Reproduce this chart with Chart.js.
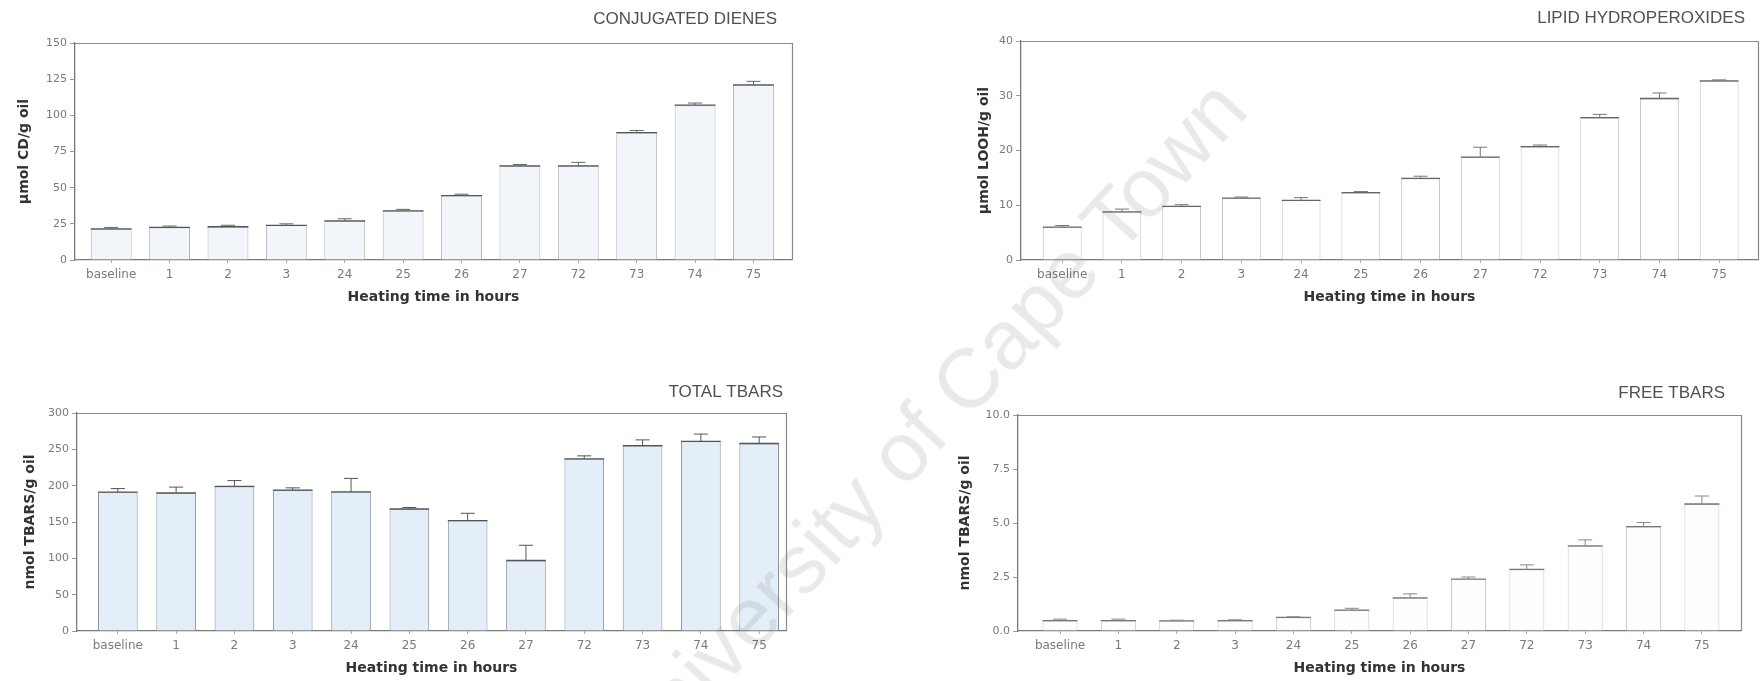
<!DOCTYPE html>
<html><head><meta charset="utf-8">
<script src="https://cdn.jsdelivr.net/npm/chart.js@4.4.1/dist/chart.umd.min.js"></script>
<style>
html,body{margin:0;padding:0;background:#fff;width:1764px;height:681px;overflow:hidden;position:relative}
canvas{position:absolute}
#wm{position:absolute;left:924px;top:426px;transform:translate(-50%,-50%) rotate(-47.5deg);font:84px "Liberation Sans",Arial,sans-serif;color:rgba(100,100,100,0.14);white-space:nowrap;pointer-events:none;line-height:1}
</style></head><body>
<canvas id="cd" width="800" height="320" style="left:0;top:0"></canvas>
<canvas id="looh" width="884" height="320" style="left:880px;top:0"></canvas>
<canvas id="total" width="800" height="341" style="left:0;top:340px"></canvas>
<canvas id="free" width="884" height="341" style="left:880px;top:340px"></canvas>
<div id="wm">University of Cape Town</div>
<script>
// ---- data ----
const categories = ['baseline','1','2','3','24','25','26','27','72','73','74','75'];
const xAxisTitle = 'Heating time in hours';

const cdValues   = [21.5, 22.5, 23, 24, 27, 34, 44.5, 65, 65, 88, 107, 121];
const cdErrUpper = [22.5, 23.5, 24, 25, 28.5, 35, 45.5, 66, 67.5, 89.5, 108.5, 123.5];
const cdYTicks   = [0, 25, 50, 75, 100, 125, 150];

const loohValues   = [6, 8.8, 9.8, 11.3, 10.9, 12.3, 14.9, 18.8, 20.7, 26, 29.5, 32.7];
const loohErrUpper = [6.3, 9.3, 10.1, 11.5, 11.4, 12.5, 15.3, 20.6, 21, 26.6, 30.5, 32.9];
const loohYTicks   = [0, 10, 20, 30, 40];

const totalValues   = [191, 190, 199, 194, 191.5, 168, 152, 97, 237, 255, 261, 258];
const totalErrUpper = [196, 198, 207, 197, 210, 170, 162, 118, 241, 263, 271, 267];
const totalYTicks   = [0, 50, 100, 150, 200, 250, 300];

const freeValues   = [0.48, 0.48, 0.47, 0.48, 0.63, 0.97, 1.53, 2.4, 2.85, 3.94, 4.83, 5.88];
const freeErrUpper = [0.55, 0.55, 0.5, 0.52, 0.66, 1.05, 1.72, 2.5, 3.06, 4.22, 5.02, 6.25];
const freeYTicks   = [0, 2.5, 5, 7.5, 10];

const TICK_FONT = '"DejaVu Sans", "Liberation Sans", sans-serif';
const TITLE_FONT = '"DejaVu Sans", "Liberation Sans", sans-serif';
const PANEL_FONT = '"Liberation Sans", Arial, sans-serif';

// ---- plugins ----
const framePlugin = {
  id: 'frame',
  afterDatasetsDraw(chart) {
    const a = chart.chartArea, ctx = chart.ctx;
    ctx.save();
    ctx.strokeStyle = '#8a8a8a';
    ctx.lineWidth = 1.2;
    ctx.beginPath();
    ctx.moveTo(a.left, a.top + 0.5); ctx.lineTo(a.right + 0.5, a.top + 0.5); ctx.lineTo(a.right + 0.5, a.bottom);
    ctx.stroke();
    ctx.restore();
  }
};
const errPlugin = {
  id: 'errbars',
  afterDatasetsDraw(chart) {
    const ctx = chart.ctx, ys = chart.scales.y;
    chart.data.datasets.forEach((ds, di) => {
      const meta = chart.getDatasetMeta(di);
      meta.data.forEach((bar, i) => {
        const w = bar.width, x = bar.x, y = bar.y;
        ctx.save();
        ctx.strokeStyle = ds.meanColor; ctx.lineWidth = 1.3;
        ctx.beginPath(); ctx.moveTo(x - w / 2, y); ctx.lineTo(x + w / 2, y); ctx.stroke();
        const yu = ys.getPixelForValue(ds.errUpper[i]);
        ctx.strokeStyle = ds.errColor; ctx.lineWidth = 1;
        ctx.beginPath(); ctx.moveTo(x, y); ctx.lineTo(x, yu);
        ctx.moveTo(x - 7, yu); ctx.lineTo(x + 7, yu); ctx.stroke();
        ctx.restore();
      });
    });
  }
};
const titlePlugin = {
  id: 'panelTitle',
  afterDraw(chart, args, opts) {
    const a = chart.chartArea, ctx = chart.ctx;
    ctx.save();
    ctx.font = '17px ' + PANEL_FONT;
    ctx.fillStyle = '#505050';
    ctx.textAlign = 'right'; ctx.textBaseline = 'middle';
    ctx.fillText(opts.text, a.right - opts.dx, a.top - opts.dy);
    ctx.restore();
  }
};

function makePanel(id, p) {
  return new Chart(document.getElementById(id), {
    type: 'bar',
    data: { datasets: [{
      data: p.values.map((v, i) => ({ x: i, y: v })),
      backgroundColor: p.fill, borderColor: p.border, borderWidth: 1,
      barPercentage: p.barPct, categoryPercentage: 1,
      errUpper: p.err, meanColor: p.mean, errColor: p.errColor
    }] },
    options: {
      responsive: false, animation: false,
      layout: { padding: p.pad },
      plugins: { legend: { display: false }, tooltip: { enabled: false },
                 panelTitle: { text: p.title, dx: p.tdx, dy: p.tdy } },
      scales: {
        x: {
          type: 'linear', min: p.xmin, max: p.xmax, offset: false,
          afterBuildTicks: s => { s.ticks = categories.map((c, i) => ({ value: i })); },
          afterFit: s => { s.height = p.xh; },
          ticks: { callback: v => categories[v], autoSkip: false, maxRotation: 0, padding: 5,
                   color: '#7a7a7a', font: { size: 12, family: TICK_FONT } },
          grid: { display: true, offset: false, drawOnChartArea: false, tickLength: 3, color: '#aaa' },
          border: { display: true, color: '#7a7a7a', width: 1.3 },
          title: { display: true, text: xAxisTitle, color: '#333',
                   font: { size: 14, weight: 'bold', family: TITLE_FONT },
                   padding: { top: 0, bottom: p.xtp } }
        },
        y: {
          min: 0, max: p.ymax,
          afterBuildTicks: s => { s.ticks = p.yTicks.map(v => ({ value: v })); },
          afterFit: s => { s.width = p.yw; },
          ticks: { callback: v => p.fmt(v), padding: 3, color: '#7a7a7a',
                   font: { size: 11, family: TICK_FONT } },
          grid: { display: true, drawOnChartArea: false, tickLength: 5, color: '#999' },
          border: { display: true, color: '#7a7a7a', width: 1.3 },
          title: { display: true, text: p.ylabel, color: '#333',
                   font: { size: 14, weight: 'bold', family: TITLE_FONT },
                   padding: { top: p.ytp, bottom: 0 } }
        }
      }
    },
    plugins: [framePlugin, errPlugin, titlePlugin]
  });
}

makePanel('cd', {
  values: cdValues, err: cdErrUpper, yTicks: cdYTicks, ymax: 150, fmt: v => String(v),
  ylabel: 'µmol CD/g oil', title: 'CONJUGATED DIENES', tdx: 15, tdy: 24,
  fill: '#f2f6fb', border: '#b5b5b5', mean: '#555', errColor: '#666', barPct: 0.70,
  xmin: -0.62, xmax: 11.66, pad: { left: 0, right: 8, top: 43, bottom: 0 },
  yw: 75, xh: 60, ytp: 16, xtp: 14
});
makePanel('looh', {
  values: loohValues, err: loohErrUpper, yTicks: loohYTicks, ymax: 40, fmt: v => String(v),
  ylabel: 'µmol LOOH/g oil', title: 'LIPID HYDROPEROXIDES', tdx: 13, tdy: 23,
  fill: '#ffffff', border: '#c2c2c2', mean: '#666', errColor: '#777', barPct: 0.65,
  xmin: -0.69, xmax: 11.65, pad: { left: 0, right: 6, top: 41, bottom: 0 },
  yw: 141, xh: 60, ytp: 96, xtp: 14
});
makePanel('total', {
  values: totalValues, err: totalErrUpper, yTicks: totalYTicks, ymax: 300, fmt: v => String(v),
  ylabel: 'nmol TBARS/g oil', title: 'TOTAL TBARS', tdx: 3, tdy: 21,
  fill: '#e4eef9', border: '#8892a0', mean: '#555', errColor: '#555', barPct: 0.68,
  xmin: -0.70, xmax: 11.46, pad: { left: 0, right: 14, top: 73, bottom: 0 },
  yw: 77, xh: 50, ytp: 22, xtp: 4
});
makePanel('free', {
  values: freeValues, err: freeErrUpper, yTicks: freeYTicks, ymax: 10, fmt: v => v.toFixed(1),
  ylabel: 'nmol TBARS/g oil', title: 'FREE TBARS', tdx: 16, tdy: 22,
  fill: '#fffdfd', border: '#d6c4c4', mean: '#777', errColor: '#888', barPct: 0.60,
  xmin: -0.72, xmax: 11.67, pad: { left: 0, right: 23, top: 75, bottom: 0 },
  yw: 138, xh: 50, ytp: 77, xtp: 4
});
</script>
</body></html>
